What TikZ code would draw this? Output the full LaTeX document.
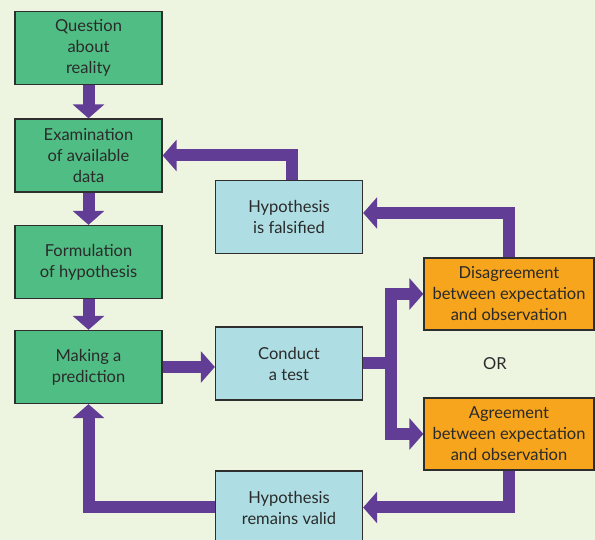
\documentclass[tikz,border=0pt]{standalone}
\usepackage{fontspec}
\setmainfont{Lato}
\usepackage{xcolor}
\usepackage{tikz}
\usetikzlibrary{arrows.meta,calc}
\definecolor{SMBack}{HTML}{EDF5E1}
\definecolor{SMGreen}{HTML}{50BE84}
\definecolor{SMBlue}{HTML}{AEDEE3}
\definecolor{SMOrange}{HTML}{F6A51C}
\definecolor{SMPurple}{HTML}{623D96}
\definecolor{SMEdge}{HTML}{2E2E2E}
\definecolor{SMText}{HTML}{2A2A2A}
\tikzset{
  smbox/.style={draw=SMEdge,line width=1.3pt,minimum width=147pt,minimum height=73pt,
    align=center,inner sep=0pt,font=\fontsize{16.5}{21}\selectfont,text=SMText},
  stepbox/.style={smbox,fill=SMGreen},
  testbox/.style={smbox,fill=SMBlue},
  resultbox/.style={smbox,fill=SMOrange,minimum width=170pt,minimum height=72pt},
  flow/.style={draw=SMPurple,line width=12pt,line join=miter,
    -{Triangle[length=14pt,width=31pt]}},
  flowline/.style={draw=SMPurple,line width=12pt}
}

\begin{document}
\begin{tikzpicture}[x=1pt,y=1pt]
\path[use as bounding box,fill=SMBack] (0,0) rectangle (595,540);
\clip (0,0) rectangle (595,540);
\node[stepbox] (question) at (88.5,492) {Question\\about\\reality};
\node[stepbox] (exam) at (88.5,384.5) {Examination\\of available\\data};
\node[stepbox] (form) at (88.5,278) {Formulation\\of hypothesis};
\node[stepbox] (predict) at (88.5,173) {Making a\\prediction};
\node[testbox] (falsified) at (289,323) {Hypothesis\\is falsified};
\node[testbox] (test) at (289,176.5) {Conduct\\a test};
\node[testbox] (valid) at (289,32.5) {Hypothesis\\remains valid};
\node[resultbox] (disagree) at (509,246) {Disagreement\\between expectation\\and observation};
\node[resultbox] (agree) at (509,106) {Agreement\\between expectation\\and observation};
\node[font=\fontsize{16.5}{21}\selectfont,text=SMText] (or) at (495,176) {OR};
\coordinate (split) at (391,176.5);
\draw[flow] (question) -- (exam);
\draw[flow] (exam) -- (form);
\draw[flow] (form) -- (predict);
\draw[flow] (predict.east) -- (predict.east -| test.west);
\draw[flowline] (test.east) -- (split);
\draw[flow] (split) |- (disagree.west);
\draw[flow] (split) |- (agree.west);
\draw[flow] (disagree.north) |- ([yshift=4]falsified.east);
\draw[flow] ([xshift=3]falsified.north) |- (exam.east);
\draw[flow] (agree.south) |- (valid.east);
\draw[flow] (valid.west) -| (predict.south);
\end{tikzpicture}
\end{document}
